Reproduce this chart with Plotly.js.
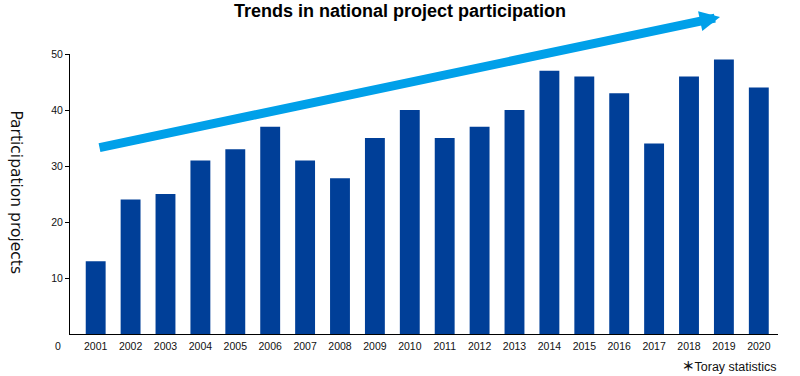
<!DOCTYPE html>
<html>
<head>
<meta charset="utf-8">
<script src="https://cdn.plot.ly/plotly-3.0.1.min.js"></script>
<style>html,body{margin:0;padding:0;background:#fff;}#chart{width:800px;height:376px;}</style>
</head>
<body>
<div id="chart"></div>
<script>
const years = [2001,2002,2003,2004,2005,2006,2007,2008,2009,2010,2011,2012,2013,2014,2015,2016,2017,2018,2019,2020];
const yearLabels = years.map(String);
const participation = [13,24,25,31,33,37,31,27.8,35,40,35,37,40,47,46,43,34,46,49,44];
const yTickVals = [10,20,30,40,50];

const FONT = '"Liberation Sans", Arial, Helvetica, sans-serif';

const trace = {
  type: 'bar',
  x: years,
  y: participation,
  marker: {color: '#003f98'},
  width: 0.57,
  hoverinfo: 'x+y'
};

const layout = {
  width: 800, height: 376,
  margin: {l: 70, r: 22, t: 54, b: 42},
  paper_bgcolor: '#fff', plot_bgcolor: '#fff',
  showlegend: false,
  font: {family: FONT, color: '#111', size: 10},
  title: {
    text: '<b>Trends in national project participation</b>',
    font: {family: FONT, size: 18, color: '#000'},
    x: 0.5, xanchor: 'center', xref: 'container',
    y: 0.972, yanchor: 'middle', yref: 'container'
  },
  xaxis: {
    type: 'linear',
    range: [2001 - 0.736, 2001 + 19.55],
    tickmode: 'array', tickvals: years, ticktext: yearLabels,
    showgrid: false, zeroline: false,
    showline: true, linecolor: '#000', linewidth: 1,
    ticks: '', tickfont: {size: 10.5, color: '#111'},
    ticklabelstandoff: 2,
    fixedrange: true
  },
  yaxis: {
    range: [0, 50],
    tickmode: 'array', tickvals: yTickVals,
    showgrid: false, zeroline: false,
    showline: true, linecolor: '#000', linewidth: 1,
    ticks: 'outside', ticklen: 4, tickcolor: '#000', tickwidth: 1,
    tickfont: {size: 10.5, color: '#111'},
    fixedrange: true
  },
  annotations: [
    {
      text: 'Participation projects', textangle: 90,
      xref: 'paper', yref: 'paper', x: -0.076, y: 0.505,
      xanchor: 'center', yanchor: 'middle', showarrow: false,
      font: {family: '"DejaVu Sans", sans-serif', size: 15.5, color: '#111'}
    },
    {
      text: '0', xref: 'paper', yref: 'paper', x: -0.017, y: -0.043,
      xanchor: 'center', yanchor: 'middle', showarrow: false,
      font: {family: FONT, size: 10.5, color: '#111'}
    },
    {
      text: '<span style="font-family:\'Noto Sans CJK JP\';font-weight:bold">＊</span>Toray statistics',
      xref: 'paper', yref: 'paper', x: 1.0, y: -0.112,
      xanchor: 'right', yanchor: 'middle', showarrow: false,
      font: {family: FONT, size: 12.5, color: '#111'}
    },
    {
      text: '', xref: 'paper', yref: 'paper',
      x: (720 - 70) / 708, y: (334 - 17) / 280,
      axref: 'pixel', ayref: 'pixel', ax: -622, ay: 131,
      showarrow: true, arrowhead: 2, arrowsize: 0.45, arrowwidth: 9,
      arrowcolor: '#00a0e9', standoff: 0, startstandoff: 0
    }
  ]
};

Plotly.newPlot('chart', [trace], layout, {displayModeBar: false, staticPlot: true});
</script>
</body>
</html>
